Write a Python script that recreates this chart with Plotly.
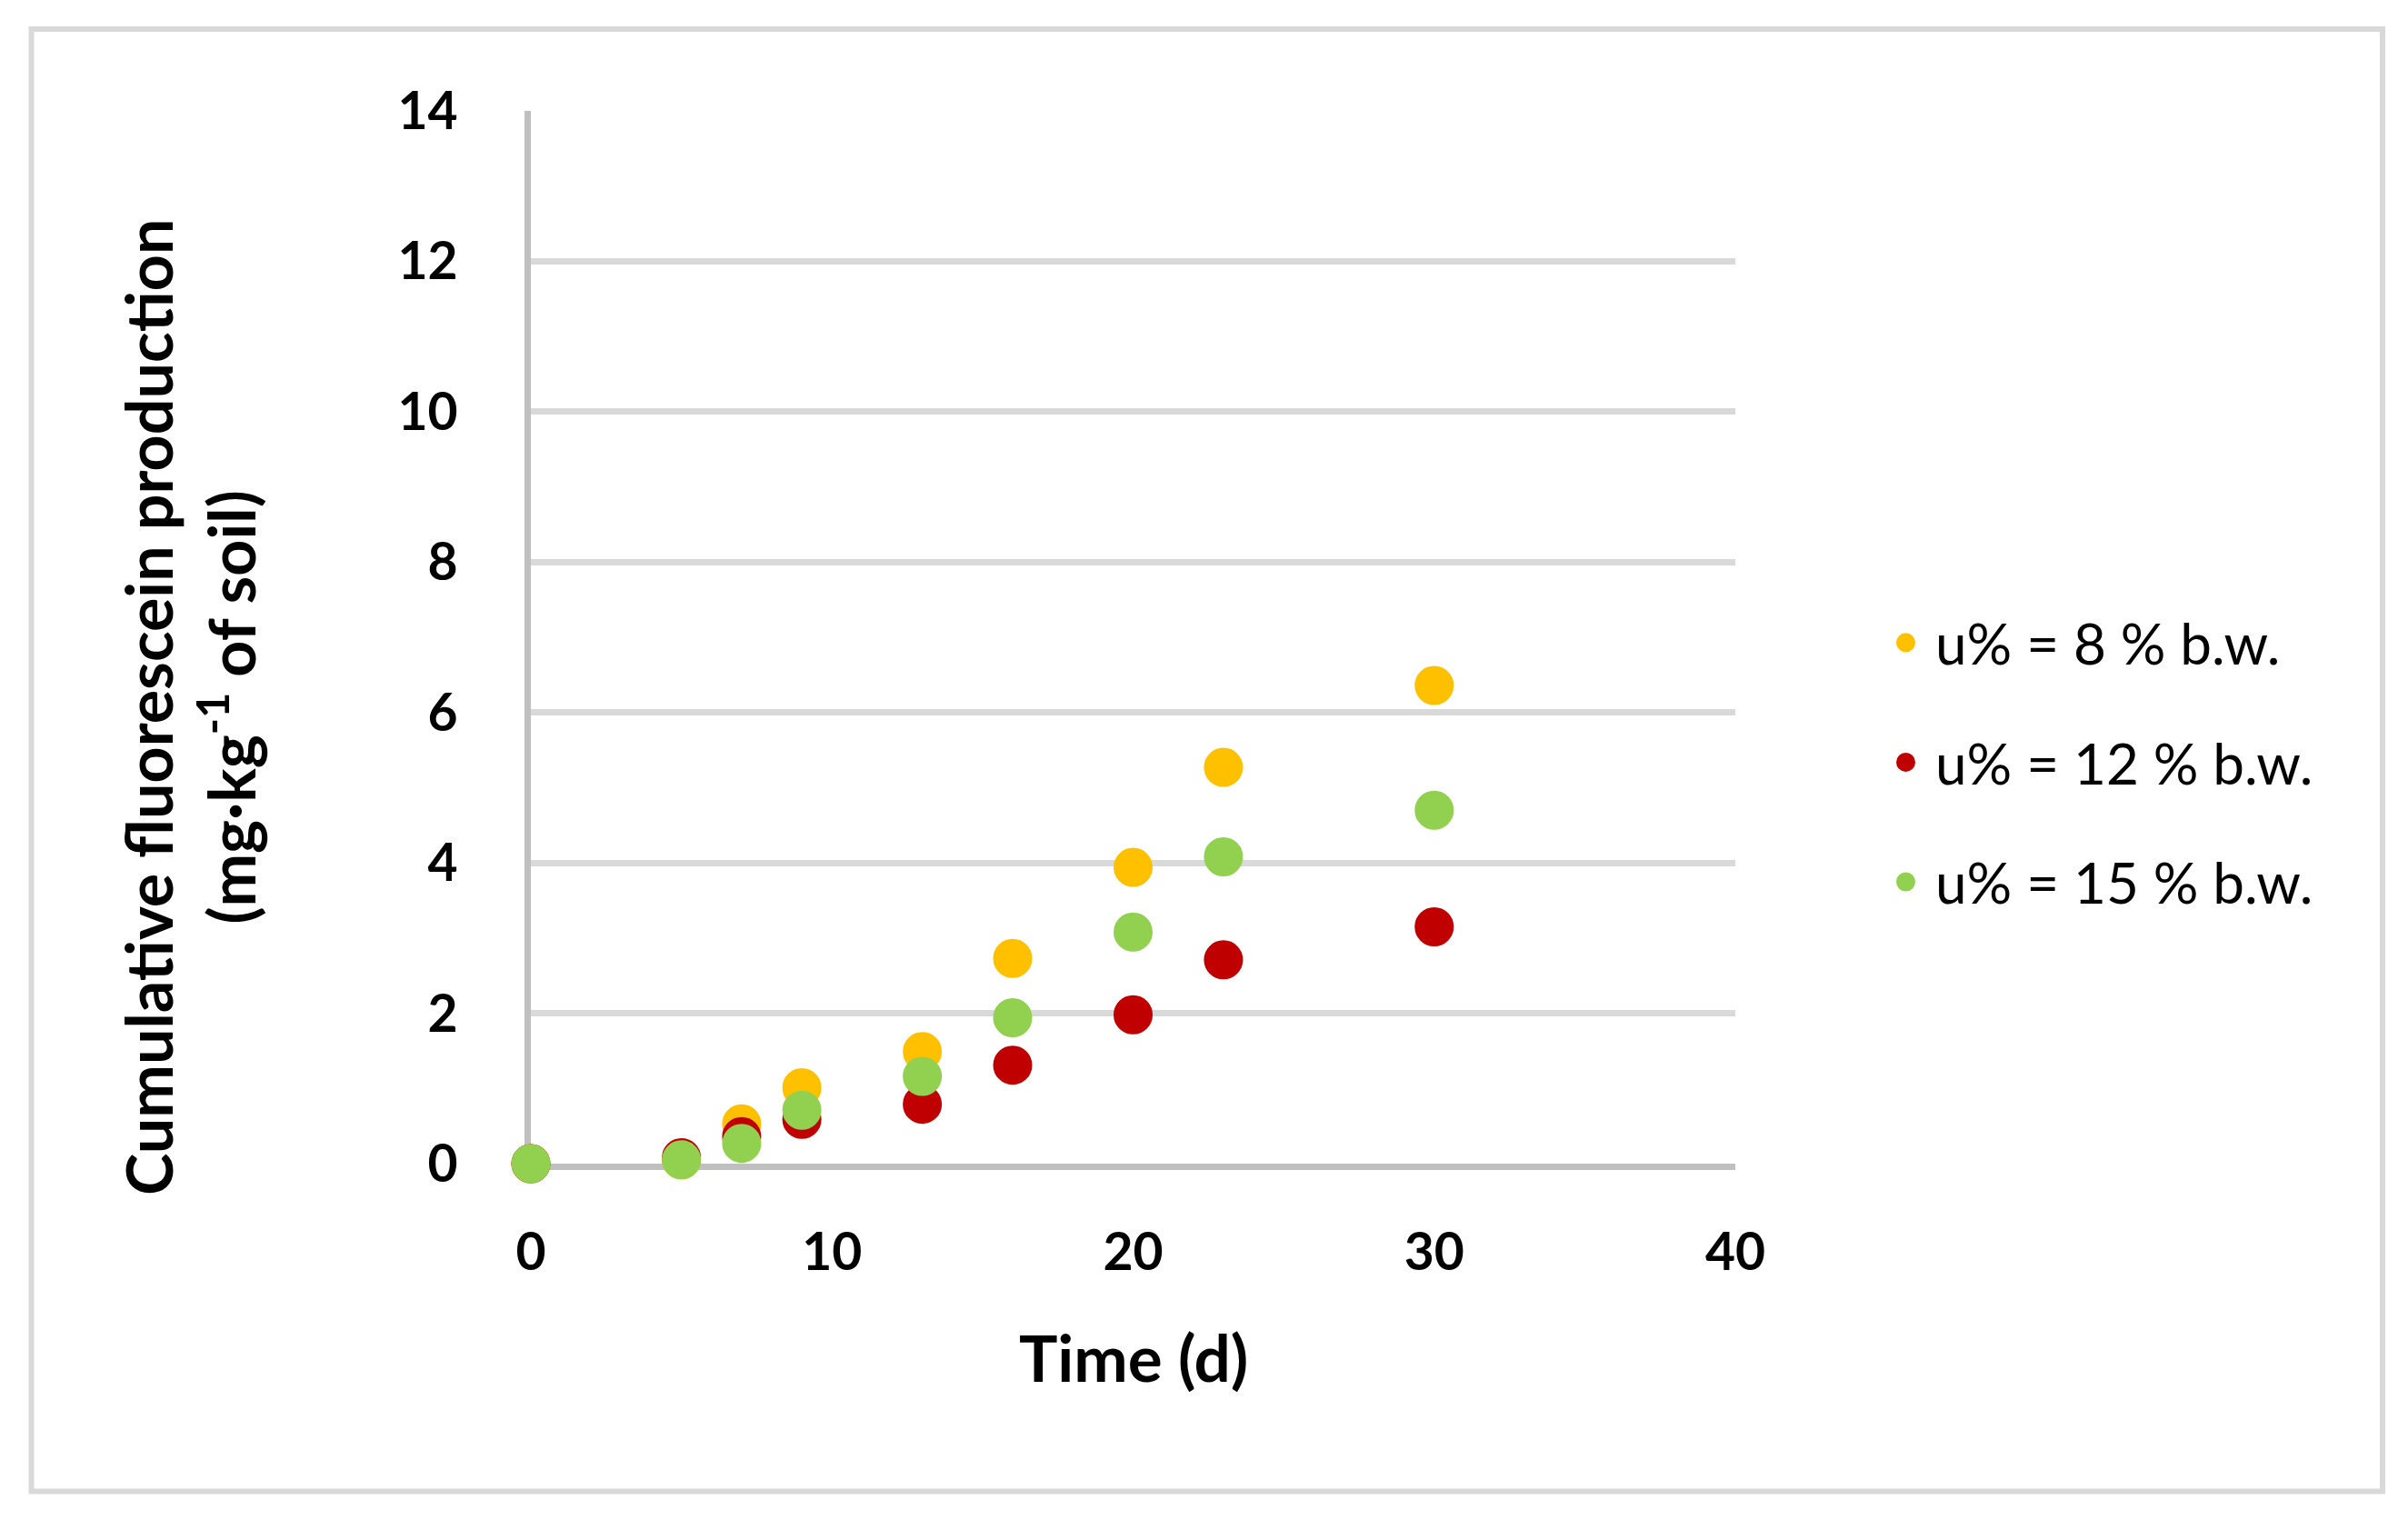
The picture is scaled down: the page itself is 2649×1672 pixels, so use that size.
import plotly.graph_objects as go

# days of incubation
time_d = [0, 5, 7, 9, 13, 16, 20, 23, 30]

# cumulative fluorescein production, mg/kg of soil
u8 = [0, 0.05, 0.53, 1.01, 1.49, 2.73, 3.94, 5.27, 6.36]
u12 = [0, 0.08, 0.36, 0.59, 0.79, 1.31, 1.98, 2.71, 3.15]
u15 = [0, 0.05, 0.27, 0.71, 1.16, 1.94, 3.08, 4.08, 4.70]

series_names = ["u% = 8 % b.w.", "u% = 12 % b.w.", "u% = 15 % b.w."]
series_colors = ["#FFC000", "#C00000", "#92D050"]

x_ticks = [0, 10, 20, 30, 40]
y_ticks = [0, 2, 4, 6, 8, 10, 12, 14]

# page is 2649x1672, the html body adds an 8px margin
OFF = 8
W, H = 2649 - OFF, 1672 - OFF
L, R, T, B = 584 - OFF, 740, 122 - OFF, 392
pw, ph = W - L - R, H - T - B


# page pixel -> paper coords
def px_x(p):
    return (p - OFF - L) / pw


def px_y(p):
    return (H - B - (p - OFF)) / ph


fig = go.Figure()
for i, (name, vals) in enumerate(zip(series_names, [u8, u12, u15])):
    fig.add_trace(go.Scatter(
        x=time_d, y=vals, name=name, mode="markers",
        legendgroup=str(i),
        cliponaxis=False,
        marker=dict(size=38, color=series_colors[i],
                    line=dict(width=5, color=series_colors[i])),
    ))

font_main = "Lato, 'Open Sans', sans-serif"

fig.update_layout(
    width=W, height=H,
    margin=dict(l=L, r=R, t=T, b=B),
    paper_bgcolor="white",
    plot_bgcolor="white",
    font=dict(family=font_main, color="black"),
    showlegend=True,
    legend=dict(
        x=px_x(2064), y=px_y(660), xanchor="left", yanchor="top",
        font=dict(size=62, family=font_main, color="black"),
        tracegroupgap=48,
        itemwidth=55,
        bgcolor="rgba(0,0,0,0)",
    ),
    xaxis=dict(
        range=[0, 40], tickvals=x_ticks,
        showgrid=False, zeroline=False,
        showline=True, linecolor="#BFBFBF", linewidth=7,
        ticks="", ticklabelstandoff=42,
        tickfont=dict(size=57, family=font_main, weight="bold"),
        layer="below traces",
    ),
    yaxis=dict(
        range=[0, 14], tickvals=y_ticks,
        showgrid=True, gridcolor="#D9D9D9", gridwidth=7,
        zeroline=False,
        showline=True, linecolor="#BFBFBF", linewidth=7,
        ticks="", ticklabelstandoff=62,
        tickfont=dict(size=57, family=font_main, weight="bold"),
        layer="below traces",
    ),
    annotations=[
        dict(text="<b>Time (d)</b>", xref="paper", yref="paper",
             x=0.5, y=px_y(1492), xanchor="center", yanchor="middle",
             showarrow=False, font=dict(size=71, family=font_main)),
        dict(text="<b>Cumulative fluorescein production<br>(mg·kg<sup>-1</sup> of soil)</b>",
             xref="paper", yref="paper", textangle=-90,
             x=px_x(208), y=px_y(778), xanchor="center", yanchor="middle",
             showarrow=False, font=dict(size=70, family=font_main)),
    ],
    shapes=[
        dict(type="rect", xref="paper", yref="paper",
             x0=px_x(34.5), x1=px_x(2621), y0=px_y(1640.5), y1=px_y(32),
             line=dict(color="#D9D9D9", width=6), layer="below"),
    ],
)

fig.write_html("out.html")
